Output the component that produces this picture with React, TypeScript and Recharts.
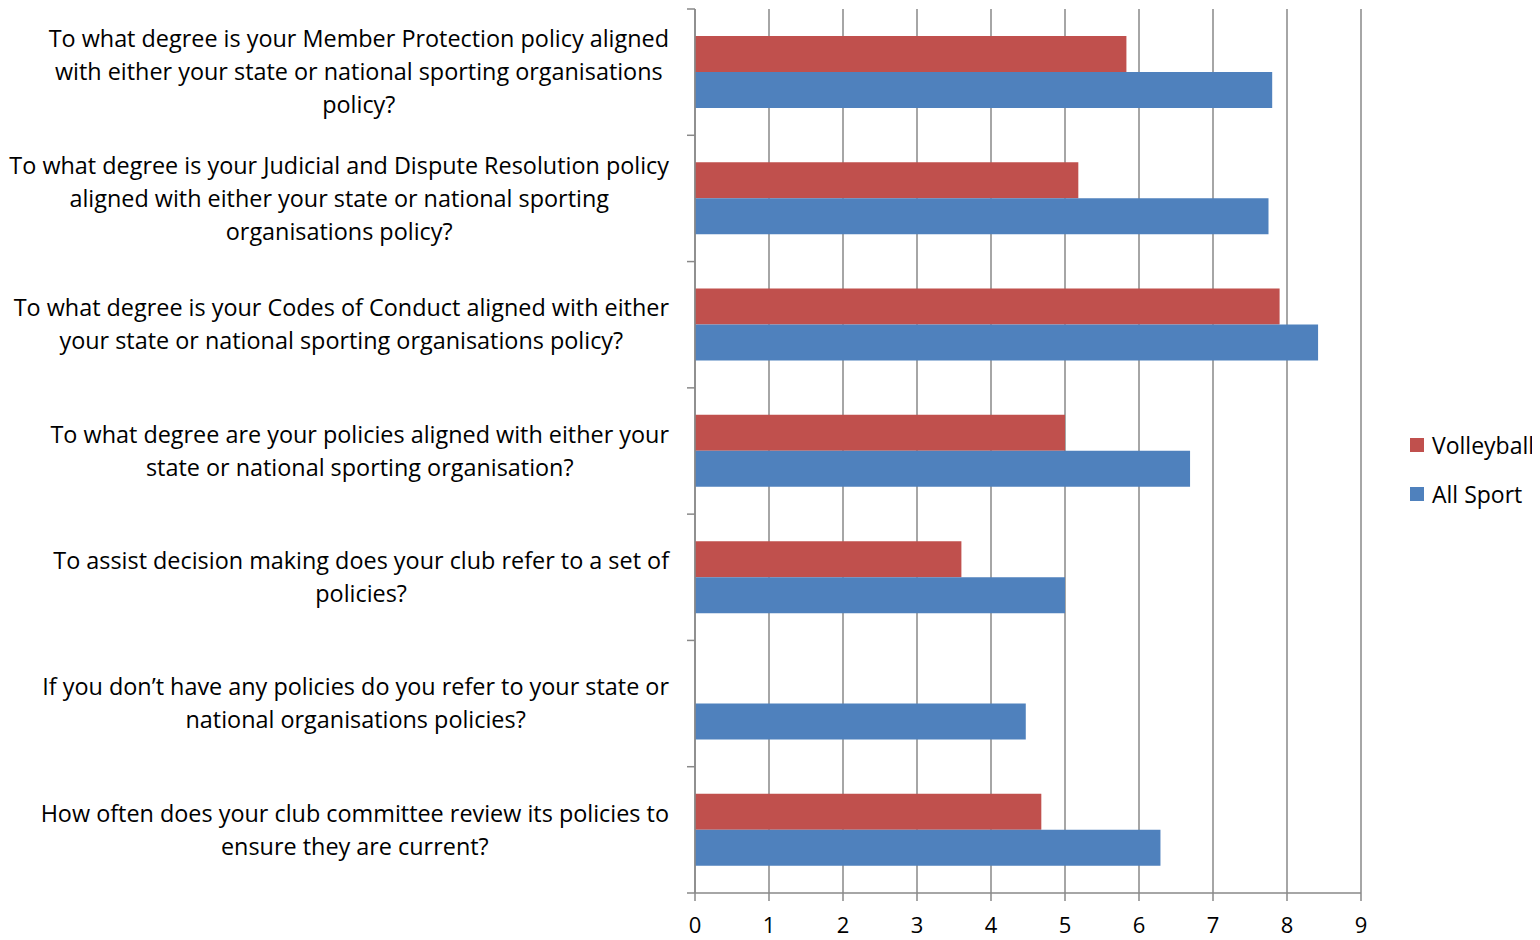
import React from 'react';
import { BarChart, Bar, XAxis, YAxis, CartesianGrid, Legend } from 'recharts';

const categories = [
  'To what degree is your Member Protection policy aligned\nwith either your state or national sporting organisations\npolicy?',
  'To what degree is your Judicial and Dispute Resolution policy\naligned with either your state or national sporting\norganisations policy?',
  'To what degree is your Codes of Conduct aligned with either\nyour state or national sporting organisations policy?',
  'To what degree are your policies aligned with either your\nstate or national sporting organisation?',
  'To assist decision making does your club refer to a set of\npolicies?',
  'If you don\u2019t have any policies do you refer to your state or\nnational organisations policies?',
  'How often does your club committee review its policies to\nensure they are current?',
];
const volleyball = [5.83, 5.18, 7.9, 5.0, 3.6, 0, 4.68];
const allSport = [7.8, 7.75, 8.42, 6.69, 5.0, 4.47, 6.29];
const xTicks = [0, 1, 2, 3, 4, 5, 6, 7, 8, 9];
const seriesNames = ['Volleyball', 'All Sport'];
const seriesColors = ['#C0504D', '#4F81BD'];

const data = categories.map((name, i) => ({
  name,
  volleyball: volleyball[i],
  allSport: allSport[i],
}));

const W = 1532;
const H = 932;
const MARGIN = { top: 1, right: 179, bottom: 7, left: 0 };
const Y_WIDTH = 687;
const X_HEIGHT = 40;
const PLOT_TOP = MARGIN.top;
const PLOT_BOTTOM = H - MARGIN.bottom - X_HEIGHT;
const PLOT_LEFT = MARGIN.left + Y_WIDTH;
const BAND = (PLOT_BOTTOM - PLOT_TOP) / categories.length;
const FONT = '"Open Sans", Lato, sans-serif';
const FONT_SIZE = 23.4;
const TICK_FONT_SIZE = 22;
const LEGEND_FONT_SIZE = 23;
const LINE_H = 33;
const GRID = '#898989';

let ctx: CanvasRenderingContext2D | null = null;
const measure = (s: string) => {
  if (!ctx) {
    const c = document.createElement('canvas');
    ctx = c.getContext('2d');
  }
  if (!ctx) return s.length * 11;
  ctx.font = `${FONT_SIZE}px ${FONT}`;
  return ctx.measureText(s).width;
};

const YTick = (props: any) => {
  const { y, payload, index } = props;
  const lines: string[] = String(payload.value).split('\n');
  const maxW = Math.max(...lines.map(measure));
  const right = PLOT_LEFT - 26;
  const cx = right - maxW / 2;
  const n = lines.length;
  return (
    <g>
      <line x1={PLOT_LEFT - 8} x2={PLOT_LEFT} y1={y - BAND / 2} y2={y - BAND / 2} stroke={GRID} strokeWidth={1.5} />
      {index === categories.length - 1 && (
        <line x1={PLOT_LEFT - 8} x2={PLOT_LEFT} y1={y + BAND / 2} y2={y + BAND / 2} stroke={GRID} strokeWidth={1.5} />
      )}
      <text textAnchor="middle" fontFamily={FONT} fontSize={FONT_SIZE} fill="#000">
        {lines.map((l, i) => (
          <tspan key={i} x={cx} y={y + (i - (n - 1) / 2) * LINE_H} dy="0.35em">
            {l}
          </tspan>
        ))}
      </text>
    </g>
  );
};

const LegendContent = () => (
  <div style={{ fontFamily: FONT, fontSize: LEGEND_FONT_SIZE, color: '#000', whiteSpace: 'nowrap' }}>
    {seriesNames.map((n, i) => (
      <div key={n} style={{ display: 'flex', alignItems: 'center', height: 49 }}>
        <span style={{ display: 'inline-block', flex: 'none', width: 14, height: 14, background: seriesColors[i], marginRight: 8 }} />
        <span style={{ flex: 'none' }}>{n}</span>
      </div>
    ))}
  </div>
);

export default function App() {
  return (
    <BarChart
      width={W}
      height={H}
      data={data}
      layout="vertical"
      margin={MARGIN}
      barCategoryGap={27}
      barGap={0}
    >
      <CartesianGrid horizontal={false} vertical stroke={GRID} strokeWidth={1.5} />
      <XAxis
        type="number"
        domain={[0, 9]}
        ticks={xTicks}
        interval={0}
        height={X_HEIGHT}
        axisLine={{ stroke: GRID, strokeWidth: 1.5 }}
        tickLine={{ stroke: GRID, strokeWidth: 1.5 }}
        tickSize={8}
        tickMargin={16}
        tick={{ fill: '#000', fontSize: TICK_FONT_SIZE, fontFamily: FONT }}
      />
      <YAxis
        type="category"
        dataKey="name"
        width={Y_WIDTH}
        interval={0}
        axisLine={{ stroke: GRID, strokeWidth: 1.5 }}
        tickLine={false}
        tick={<YTick />}
      />
      <Legend
        layout="vertical"
        align="center"
        verticalAlign="middle"
        content={<LegendContent />}
        wrapperStyle={{ position: 'absolute', left: 1402, top: 412, width: 130, overflow: 'visible' }}
      />
      <Bar dataKey="volleyball" name={seriesNames[0]} fill={seriesColors[0]} isAnimationActive={false} />
      <Bar dataKey="allSport" name={seriesNames[1]} fill={seriesColors[1]} isAnimationActive={false} />
    </BarChart>
  );
}
